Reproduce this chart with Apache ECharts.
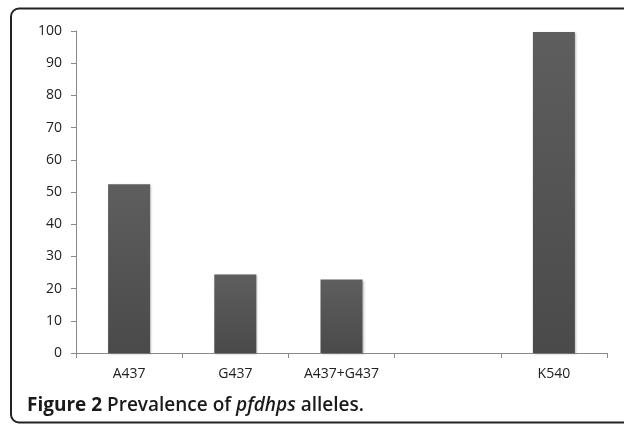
<!DOCTYPE html>
<html>
<head>
<meta charset="utf-8">
<script src="https://cdn.jsdelivr.net/npm/echarts@6/dist/echarts.min.js"></script>
<style>
html,body{margin:0;padding:0;background:#fff;}
#c{width:624px;height:425px;}
</style>
</head>
<body>
<div id="c"></div>
<script>
var categories = ['A437', 'G437', 'A437+G437', '', 'K540'];
var prevalence = [52.4, 24.4, 22.8, null, 99.7];
var yTicks = [0, 10, 20, 30, 40, 50, 60, 70, 80, 90, 100];

var chart = echarts.init(document.getElementById('c'), null, {renderer: 'canvas'});
var barColor = new echarts.graphic.LinearGradient(0, 0, 0, 1, [
  {offset: 0, color: '#5e5e5e'},
  {offset: 1, color: '#4a4a4a'}
]);
chart.setOption({
  animation: false,
  backgroundColor: '#fff',
  grid: {left: 76, right: 17, top: 31, bottom: 72, containLabel: false},
  xAxis: {
    type: 'category',
    data: categories,
    boundaryGap: true,
    axisLine: {show: true, lineStyle: {color: '#8a8a8a', width: 1}},
    axisTick: {show: true, length: 5, lineStyle: {color: '#8a8a8a'}},
    axisLabel: {color: '#222', fontFamily: 'Open Sans', fontSize: 14, margin: 14, interval: 0}
  },
  yAxis: {
    type: 'value',
    min: yTicks[0],
    max: yTicks[yTicks.length - 1],
    interval: 10,
    splitLine: {show: false},
    axisLine: {show: true, lineStyle: {color: '#8a8a8a', width: 1}},
    axisTick: {show: true, length: 5, lineStyle: {color: '#8a8a8a'}},
    axisLabel: {color: '#222', fontFamily: 'Open Sans', fontSize: 14, margin: 14}
  },
  series: [{
    type: 'bar',
    data: prevalence,
    barWidth: 42,
    itemStyle: {color: barColor, shadowColor: 'rgba(0,0,0,0.25)', shadowBlur: 2, shadowOffsetX: 1, shadowOffsetY: 1}
  }],
  graphic: [
    {
      type: 'rect',
      shape: {x: 11, y: 8.5, width: 660, height: 414, r: 8},
      style: {fill: 'none', stroke: '#222', lineWidth: 2},
      silent: true
    },
    {
      type: 'text',
      left: 27,
      top: 396,
      style: {
        text: '{b|Figure 2 }{n|Prevalence of }{i|pfdhps}{n| alleles.}',
        rich: {
          b: {fontFamily: 'Open Sans', fontWeight: 700, fontSize: 19, fill: '#1a1a1a'},
          n: {fontFamily: 'Open Sans', fontWeight: 600, fontSize: 19, fill: '#1a1a1a'},
          i: {fontFamily: 'Open Sans', fontWeight: 600, fontStyle: 'italic', fontSize: 19, fill: '#1a1a1a'}
        }
      }
    }
  ]
});
</script>
</body>
</html>
